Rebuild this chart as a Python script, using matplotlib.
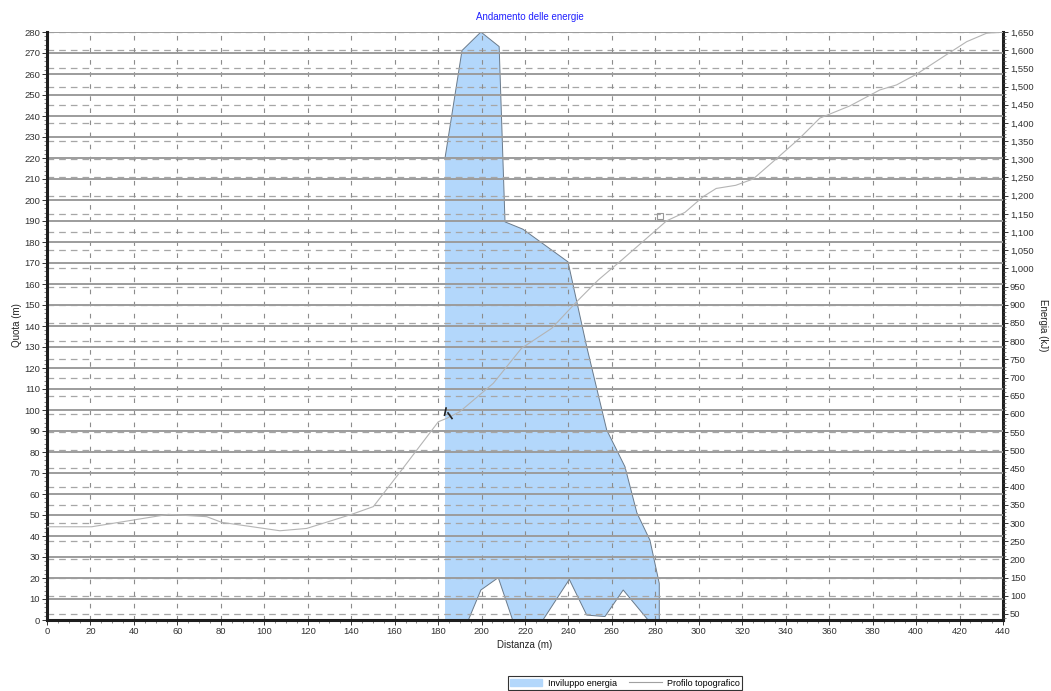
import matplotlib.pyplot as plt
from matplotlib.ticker import MultipleLocator, FuncFormatter
from matplotlib.patches import Patch
from matplotlib.lines import Line2D
from matplotlib.path import Path

plt.rcParams['font.family'] = ['Liberation Sans', 'DejaVu Sans']
plt.rcParams['lines.scale_dashes'] = False

# profilo topografico: distanza (m) / quota (m)
prof_x = [0, 20.6, 55.8, 73.5, 80.4, 107.2, 119.5, 140.2, 150.2, 163.2, 180.1,
          183.9, 190, 205.4, 218.4, 232.3, 243.8, 253.7, 264.5, 285.2, 293.6,
          302, 308, 317, 325, 335, 346.5, 355.7, 369.5, 383.3, 391, 400.2,
          412.5, 423.3, 432.4, 440]
prof_q = [44.4, 44.4, 50.3, 49.2, 46.5, 42.5, 43.6, 50.3, 54, 71.4, 94.4,
          96, 99.2, 112.7, 129.4, 138.9, 151.6, 161.9, 171.4, 190.1, 194.1,
          201.6, 205.5, 207, 210, 219, 229.5, 239, 244.8, 252.4, 254.8, 259.9,
          268.2, 275.4, 279.4, 280]

# inviluppo energia (kJ): bordo superiore e inferiore
env_top_x = [183.2, 183.2, 191, 199.7, 208.1, 210.8, 219, 239.8, 248.4, 257.6,
             266, 271.5, 277.5, 281.8, 281.8]
env_top_e = [0, 1304, 1599, 1650, 1610, 1128, 1108, 1018, 785, 556,
             455, 328, 253, 134, 0]
env_low_x = [281.3, 265.2, 256.8, 248.4, 240.4, 224.6, 216.2, 207.7, 199.7, 191.6, 183.2]
env_low_e = [0, 116, 43, 47, 145, 0, 0, 150, 116, 0, 0]

# punto di distacco e punto di arresto
start_x, start_q = 184.2, 98.5
stop_x, stop_q = 282.1, 192.4

fig = plt.figure(figsize=(10.51, 6.91), dpi=100)
ax = fig.add_axes([47 / 1051, 1 - 620 / 691, 956 / 1051, 588 / 691])
ax2 = ax.twinx()
ax.set_zorder(ax2.get_zorder() + 1)
ax.patch.set_visible(False)
ax2.patch.set_visible(False)

# energia sull'asse destro (sotto)
ax2.fill(env_top_x + env_low_x, env_top_e + env_low_e, facecolor='#b3d7fb',
         edgecolor='none', zorder=1)
ax2.plot(env_top_x[1:], env_top_e[1:], color='#6a7a8a', lw=0.7, zorder=1.2)
ax2.plot(env_low_x, env_low_e, color='#6a7a8a', lw=0.7, zorder=1.2)
ax2.set_ylim(33.5, 1650)
ax2.set_axisbelow(False)
ax2.yaxis.set_major_locator(MultipleLocator(50))
ax2.yaxis.set_minor_locator(MultipleLocator(10))
ax2.yaxis.set_major_formatter(FuncFormatter(lambda v, p: f'{v:,.0f}'))
ax2.yaxis.grid(True, color='#a6a6a6', lw=0.9, ls=(0, (4.8, 3.6)))

# quota sull'asse sinistro (sopra)
ax.plot(prof_x, prof_q, color='#b4b4b4', lw=0.8, zorder=3)
arrow = Path([(-0.2, 1.0), (-0.5, -0.4), (0.0, 0.2), (0.8, -0.9)],
             [Path.MOVETO, Path.LINETO, Path.MOVETO, Path.LINETO])
ax.plot([start_x], [start_q], marker=arrow, ms=9, mfc='none', mec='#222222',
        mew=1.2, zorder=4)
ax.plot([stop_x], [stop_q], marker='s', ms=4.5, mfc='none', mec='#999999',
        mew=0.8, zorder=4)

ax.set_xlim(0, 440)
ax.set_ylim(0, 280)
ax.xaxis.set_major_locator(MultipleLocator(20))
ax.xaxis.set_minor_locator(MultipleLocator(5))
ax.yaxis.set_major_locator(MultipleLocator(10))
ax.yaxis.set_minor_locator(MultipleLocator(2))
ax.yaxis.grid(True, color='#9c9c9c', lw=1.4, ls='-')
ax.xaxis.grid(True, color='#8c8c8c', lw=0.8, ls=(0, (3.3, 5.4)))

for s in ['top', 'right']:
    ax.spines[s].set_visible(False)
for s in ['top', 'left', 'bottom']:
    ax2.spines[s].set_visible(False)
for sp in [ax.spines['left'], ax.spines['bottom'], ax2.spines['right']]:
    sp.set_linewidth(2.2)
    sp.set_color('#1e1e1e')

ax.tick_params(which='major', direction='out', length=3.5, width=0.7,
               labelsize=6.8, pad=1.5, colors='#333333')
ax.tick_params(which='minor', direction='out', length=2, width=0.5, colors='#555555')
ax2.tick_params(which='major', direction='out', length=3.5, width=0.7,
                labelsize=6.8, pad=1.5, colors='#333333')
ax2.tick_params(which='minor', direction='out', length=2, width=0.5, colors='#555555')

fig.text(530 / 1051, 1 - 17 / 691, 'Andamento delle energie', color='#2020ff',
         fontsize=7, ha='center', va='center')
fig.text(525 / 1051, 1 - 645 / 691, 'Distanza (m)', fontsize=7, ha='center',
         va='center', color='#222222')
fig.text(17 / 1051, 1 - 325 / 691, 'Quota (m)', fontsize=7, rotation=90,
         ha='center', va='center', color='#222222')
fig.text(1043 / 1051, 1 - 325 / 691, 'Energia (kJ)', fontsize=7, rotation=-90,
         ha='center', va='center', color='#222222')

handles = [Patch(facecolor='#b3d7fb', edgecolor='#b3d7fb'),
           Line2D([], [], color='#a0a0a0', lw=0.8)]
leg = fig.legend(handles, ['Inviluppo energia', 'Profilo topografico'],
                 loc='center', bbox_to_anchor=(625 / 1051, 1 - 683 / 691),
                 ncol=2, fontsize=6.5, frameon=True, fancybox=False,
                 edgecolor='black', borderpad=0.25, handlelength=3.6,
                 handleheight=0.9, columnspacing=1.4, handletextpad=0.6)
leg.get_frame().set_linewidth(0.8)

fig.savefig('out.png', dpi=100)
